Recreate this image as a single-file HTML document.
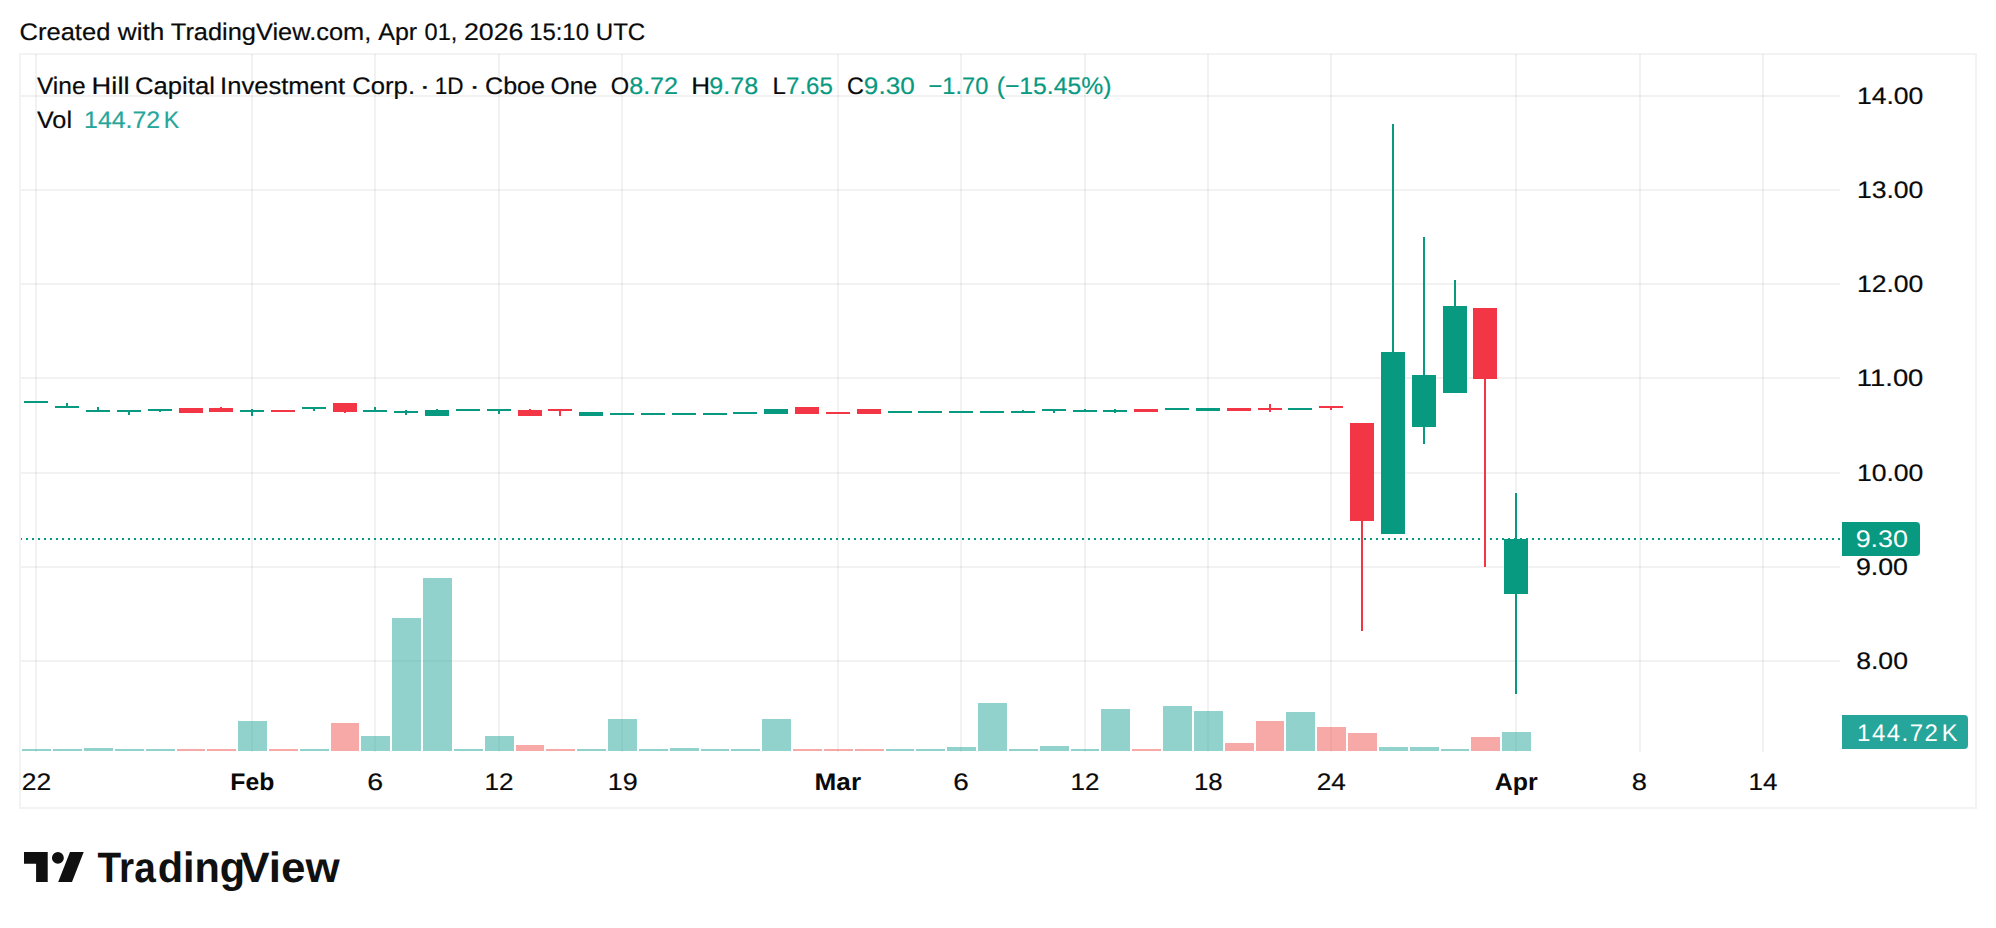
<!DOCTYPE html>
<html lang="en"><head><meta charset="utf-8"><title>Vine Hill Capital Investment Corp. chart</title>
<style>html,body{margin:0;padding:0;background:#fff;}body{width:1996px;height:928px;overflow:hidden;}svg{display:block;}text{font-family:"Liberation Sans",sans-serif;paint-order:stroke;}</style>
</head><body>
<svg width="1996" height="928" viewBox="0 0 1996 928" shape-rendering="crispEdges">
<rect x="0" y="0" width="1996" height="928" fill="#ffffff"/>
<g fill="rgba(0,0,0,0.051)">
<rect x="35" y="54" width="2" height="698"/>
<rect x="251" y="54" width="2" height="698"/>
<rect x="374" y="54" width="2" height="698"/>
<rect x="498" y="54" width="2" height="698"/>
<rect x="621" y="54" width="2" height="698"/>
<rect x="837" y="54" width="2" height="698"/>
<rect x="960" y="54" width="2" height="698"/>
<rect x="1084" y="54" width="2" height="698"/>
<rect x="1207" y="54" width="2" height="698"/>
<rect x="1330" y="54" width="2" height="698"/>
<rect x="1515" y="54" width="2" height="698"/>
<rect x="1639" y="54" width="2" height="698"/>
<rect x="1762" y="54" width="2" height="698"/>
<rect x="21" y="95" width="1819" height="2"/>
<rect x="21" y="189" width="1819" height="2"/>
<rect x="21" y="283" width="1819" height="2"/>
<rect x="21" y="377" width="1819" height="2"/>
<rect x="21" y="472" width="1819" height="2"/>
<rect x="21" y="566" width="1819" height="2"/>
<rect x="21" y="660" width="1819" height="2"/>
</g>
<rect x="20" y="54" width="1956" height="754" fill="none" stroke="rgba(0,0,0,0.047)" stroke-width="2"/>
<g>
<rect x="22" y="749" width="29" height="2" fill="rgba(38,166,154,0.5)"/>
<rect x="53" y="749" width="29" height="2" fill="rgba(38,166,154,0.5)"/>
<rect x="84" y="748" width="29" height="3" fill="rgba(38,166,154,0.5)"/>
<rect x="115" y="749" width="29" height="2" fill="rgba(38,166,154,0.5)"/>
<rect x="146" y="749" width="29" height="2" fill="rgba(38,166,154,0.5)"/>
<rect x="177" y="749" width="28" height="2" fill="rgba(239,83,80,0.5)"/>
<rect x="207" y="749" width="29" height="2" fill="rgba(239,83,80,0.5)"/>
<rect x="238" y="721" width="29" height="30" fill="rgba(38,166,154,0.5)"/>
<rect x="269" y="749" width="29" height="2" fill="rgba(239,83,80,0.5)"/>
<rect x="300" y="749" width="29" height="2" fill="rgba(38,166,154,0.5)"/>
<rect x="331" y="723" width="28" height="28" fill="rgba(239,83,80,0.5)"/>
<rect x="361" y="736" width="29" height="15" fill="rgba(38,166,154,0.5)"/>
<rect x="392" y="618" width="29" height="133" fill="rgba(38,166,154,0.5)"/>
<rect x="423" y="578" width="29" height="173" fill="rgba(38,166,154,0.5)"/>
<rect x="454" y="749" width="29" height="2" fill="rgba(38,166,154,0.5)"/>
<rect x="485" y="736" width="29" height="15" fill="rgba(38,166,154,0.5)"/>
<rect x="516" y="745" width="28" height="6" fill="rgba(239,83,80,0.5)"/>
<rect x="546" y="749" width="29" height="2" fill="rgba(239,83,80,0.5)"/>
<rect x="577" y="749" width="29" height="2" fill="rgba(38,166,154,0.5)"/>
<rect x="608" y="719" width="29" height="32" fill="rgba(38,166,154,0.5)"/>
<rect x="639" y="749" width="29" height="2" fill="rgba(38,166,154,0.5)"/>
<rect x="670" y="748" width="29" height="3" fill="rgba(38,166,154,0.5)"/>
<rect x="701" y="749" width="28" height="2" fill="rgba(38,166,154,0.5)"/>
<rect x="731" y="749" width="29" height="2" fill="rgba(38,166,154,0.5)"/>
<rect x="762" y="719" width="29" height="32" fill="rgba(38,166,154,0.5)"/>
<rect x="793" y="749" width="29" height="2" fill="rgba(239,83,80,0.5)"/>
<rect x="824" y="749" width="29" height="2" fill="rgba(239,83,80,0.5)"/>
<rect x="855" y="749" width="29" height="2" fill="rgba(239,83,80,0.5)"/>
<rect x="886" y="749" width="28" height="2" fill="rgba(38,166,154,0.5)"/>
<rect x="916" y="749" width="29" height="2" fill="rgba(38,166,154,0.5)"/>
<rect x="947" y="747" width="29" height="4" fill="rgba(38,166,154,0.5)"/>
<rect x="978" y="703" width="29" height="48" fill="rgba(38,166,154,0.5)"/>
<rect x="1009" y="749" width="29" height="2" fill="rgba(38,166,154,0.5)"/>
<rect x="1040" y="746" width="29" height="5" fill="rgba(38,166,154,0.5)"/>
<rect x="1071" y="749" width="28" height="2" fill="rgba(38,166,154,0.5)"/>
<rect x="1101" y="709" width="29" height="42" fill="rgba(38,166,154,0.5)"/>
<rect x="1132" y="749" width="29" height="2" fill="rgba(239,83,80,0.5)"/>
<rect x="1163" y="706" width="29" height="45" fill="rgba(38,166,154,0.5)"/>
<rect x="1194" y="711" width="29" height="40" fill="rgba(38,166,154,0.5)"/>
<rect x="1225" y="743" width="29" height="8" fill="rgba(239,83,80,0.5)"/>
<rect x="1256" y="721" width="28" height="30" fill="rgba(239,83,80,0.5)"/>
<rect x="1286" y="712" width="29" height="39" fill="rgba(38,166,154,0.5)"/>
<rect x="1317" y="727" width="29" height="24" fill="rgba(239,83,80,0.5)"/>
<rect x="1348" y="733" width="29" height="18" fill="rgba(239,83,80,0.5)"/>
<rect x="1379" y="747" width="29" height="4" fill="rgba(38,166,154,0.5)"/>
<rect x="1410" y="747" width="29" height="4" fill="rgba(38,166,154,0.5)"/>
<rect x="1441" y="749" width="28" height="2" fill="rgba(38,166,154,0.5)"/>
<rect x="1471" y="737" width="29" height="14" fill="rgba(239,83,80,0.5)"/>
<rect x="1502" y="732" width="29" height="19" fill="rgba(38,166,154,0.5)"/>
</g>
<line x1="21" y1="539" x2="1842" y2="539" stroke="#089981" stroke-width="2" stroke-dasharray="2 4" stroke-dashoffset="1"/>
<g>
<rect x="24" y="401" width="24" height="2" fill="#089981"/>
<rect x="66" y="403" width="2" height="5" fill="#089981"/>
<rect x="55" y="406" width="24" height="2" fill="#089981"/>
<rect x="97" y="407" width="2" height="5" fill="#089981"/>
<rect x="86" y="410" width="24" height="2" fill="#089981"/>
<rect x="128" y="410" width="2" height="5" fill="#089981"/>
<rect x="117" y="410" width="24" height="2" fill="#089981"/>
<rect x="159" y="409" width="2" height="3" fill="#089981"/>
<rect x="148" y="409" width="24" height="2" fill="#089981"/>
<rect x="179" y="408" width="24" height="5" fill="#f23645"/>
<rect x="220" y="407" width="2" height="5" fill="#f23645"/>
<rect x="209" y="408" width="24" height="4" fill="#f23645"/>
<rect x="251" y="409" width="2" height="7" fill="#089981"/>
<rect x="240" y="410" width="24" height="2" fill="#089981"/>
<rect x="271" y="410" width="24" height="2" fill="#f23645"/>
<rect x="313" y="407" width="2" height="4" fill="#089981"/>
<rect x="302" y="407" width="24" height="2" fill="#089981"/>
<rect x="344" y="403" width="2" height="10" fill="#f23645"/>
<rect x="333" y="403" width="24" height="9" fill="#f23645"/>
<rect x="374" y="407" width="2" height="5" fill="#089981"/>
<rect x="363" y="410" width="24" height="2" fill="#089981"/>
<rect x="405" y="410" width="2" height="5" fill="#089981"/>
<rect x="394" y="411" width="24" height="2" fill="#089981"/>
<rect x="436" y="409" width="2" height="7" fill="#089981"/>
<rect x="425" y="410" width="24" height="6" fill="#089981"/>
<rect x="456" y="409" width="24" height="2" fill="#089981"/>
<rect x="498" y="409" width="2" height="5" fill="#089981"/>
<rect x="487" y="409" width="24" height="2" fill="#089981"/>
<rect x="529" y="409" width="2" height="7" fill="#f23645"/>
<rect x="518" y="410" width="24" height="6" fill="#f23645"/>
<rect x="559" y="409" width="2" height="7" fill="#f23645"/>
<rect x="548" y="409" width="24" height="2" fill="#f23645"/>
<rect x="579" y="412" width="24" height="4" fill="#089981"/>
<rect x="610" y="413" width="24" height="2" fill="#089981"/>
<rect x="641" y="413" width="24" height="2" fill="#089981"/>
<rect x="672" y="413" width="24" height="2" fill="#089981"/>
<rect x="703" y="413" width="24" height="2" fill="#089981"/>
<rect x="733" y="412" width="24" height="2" fill="#089981"/>
<rect x="764" y="409" width="24" height="5" fill="#089981"/>
<rect x="795" y="407" width="24" height="7" fill="#f23645"/>
<rect x="826" y="412" width="24" height="2" fill="#f23645"/>
<rect x="857" y="409" width="24" height="5" fill="#f23645"/>
<rect x="888" y="411" width="24" height="2" fill="#089981"/>
<rect x="918" y="411" width="24" height="2" fill="#089981"/>
<rect x="949" y="411" width="24" height="2" fill="#089981"/>
<rect x="980" y="411" width="24" height="2" fill="#089981"/>
<rect x="1022" y="410" width="2" height="3" fill="#089981"/>
<rect x="1011" y="411" width="24" height="2" fill="#089981"/>
<rect x="1053" y="409" width="2" height="4" fill="#089981"/>
<rect x="1042" y="409" width="24" height="2" fill="#089981"/>
<rect x="1084" y="409" width="2" height="3" fill="#089981"/>
<rect x="1073" y="410" width="24" height="2" fill="#089981"/>
<rect x="1114" y="409" width="2" height="4" fill="#089981"/>
<rect x="1103" y="410" width="24" height="2" fill="#089981"/>
<rect x="1134" y="409" width="24" height="3" fill="#f23645"/>
<rect x="1165" y="408" width="24" height="2" fill="#089981"/>
<rect x="1196" y="408" width="24" height="3" fill="#089981"/>
<rect x="1227" y="408" width="24" height="3" fill="#f23645"/>
<rect x="1269" y="404" width="2" height="8" fill="#f23645"/>
<rect x="1258" y="408" width="24" height="2" fill="#f23645"/>
<rect x="1288" y="408" width="24" height="2" fill="#089981"/>
<rect x="1330" y="406" width="2" height="4" fill="#f23645"/>
<rect x="1319" y="406" width="24" height="2" fill="#f23645"/>
<rect x="1361" y="423" width="2" height="208" fill="#f23645"/>
<rect x="1350" y="423" width="24" height="98" fill="#f23645"/>
<rect x="1392" y="124" width="2" height="410" fill="#089981"/>
<rect x="1381" y="352" width="24" height="182" fill="#089981"/>
<rect x="1423" y="237" width="2" height="207" fill="#089981"/>
<rect x="1412" y="375" width="24" height="52" fill="#089981"/>
<rect x="1454" y="280" width="2" height="113" fill="#089981"/>
<rect x="1443" y="306" width="24" height="87" fill="#089981"/>
<rect x="1484" y="308" width="2" height="259" fill="#f23645"/>
<rect x="1473" y="308" width="24" height="71" fill="#f23645"/>
<rect x="1515" y="493" width="2" height="201" fill="#089981"/>
<rect x="1504" y="539" width="24" height="55" fill="#089981"/>
</g>
<g shape-rendering="auto" text-rendering="geometricPrecision">
<text x="1856.91" y="103.8" font-size="24" fill="#0a0a0a" textLength="66.46" lengthAdjust="spacingAndGlyphs" stroke="#0a0a0a" stroke-width="0.2">14.00</text>
<text x="1856.91" y="197.8" font-size="24" fill="#0a0a0a" textLength="66.46" lengthAdjust="spacingAndGlyphs" stroke="#0a0a0a" stroke-width="0.2">13.00</text>
<text x="1856.91" y="291.8" font-size="24" fill="#0a0a0a" textLength="66.46" lengthAdjust="spacingAndGlyphs" stroke="#0a0a0a" stroke-width="0.2">12.00</text>
<text x="1856.85" y="385.8" font-size="24" fill="#0a0a0a" textLength="66.52" lengthAdjust="spacingAndGlyphs" stroke="#0a0a0a" stroke-width="0.2">11.00</text>
<text x="1856.91" y="480.8" font-size="24" fill="#0a0a0a" textLength="66.46" lengthAdjust="spacingAndGlyphs" stroke="#0a0a0a" stroke-width="0.2">10.00</text>
<text x="1855.91" y="574.8" font-size="24" fill="#0a0a0a" textLength="52.06" lengthAdjust="spacingAndGlyphs" stroke="#0a0a0a" stroke-width="0.2">9.00</text>
<text x="1856.19" y="668.8" font-size="24" fill="#0a0a0a" textLength="51.77" lengthAdjust="spacingAndGlyphs" stroke="#0a0a0a" stroke-width="0.2">8.00</text>
<path d="M1842 522H1916a4 4 0 0 1 4 4V552a4 4 0 0 1-4 4H1842Z" fill="#089981"/>
<text x="1855.7" y="546.5" font-size="24" fill="#ffffff" textLength="52.27" lengthAdjust="spacingAndGlyphs">9.30</text>
<path d="M1842 715H1964a4 4 0 0 1 4 4V745a4 4 0 0 1-4 4H1842Z" fill="#26a69a"/>
<text x="1857.05" y="741" font-size="24" fill="#ffffff" letter-spacing="1.5">144.72</text>
<text x="1941.74" y="741" font-size="24" fill="#ffffff" textLength="15.72" lengthAdjust="spacingAndGlyphs">K</text>
<text x="21.72" y="790" font-size="24" fill="#0a0a0a" textLength="29.39" lengthAdjust="spacingAndGlyphs" stroke="#0a0a0a" stroke-width="0.2">22</text>
<text x="230.35" y="790" font-size="24" fill="#0a0a0a" textLength="43.99" lengthAdjust="spacingAndGlyphs" font-weight="bold">Feb</text>
<text x="367.31" y="790" font-size="24" fill="#0a0a0a" textLength="15.9" lengthAdjust="spacingAndGlyphs" stroke="#0a0a0a" stroke-width="0.2">6</text>
<text x="484.6" y="790" font-size="24" fill="#0a0a0a" textLength="29.0" lengthAdjust="spacingAndGlyphs" stroke="#0a0a0a" stroke-width="0.2">12</text>
<text x="607.74" y="790" font-size="24" fill="#0a0a0a" textLength="29.9" lengthAdjust="spacingAndGlyphs" stroke="#0a0a0a" stroke-width="0.2">19</text>
<text x="814.57" y="790" font-size="24" fill="#0a0a0a" textLength="46.5" lengthAdjust="spacingAndGlyphs" font-weight="bold">Mar</text>
<text x="953.35" y="790" font-size="24" fill="#0a0a0a" textLength="15.53" lengthAdjust="spacingAndGlyphs" stroke="#0a0a0a" stroke-width="0.2">6</text>
<text x="1070.51" y="790" font-size="24" fill="#0a0a0a" textLength="28.89" lengthAdjust="spacingAndGlyphs" stroke="#0a0a0a" stroke-width="0.2">12</text>
<text x="1194.02" y="790" font-size="24" fill="#0a0a0a" textLength="28.7" lengthAdjust="spacingAndGlyphs" stroke="#0a0a0a" stroke-width="0.2">18</text>
<text x="1316.74" y="790" font-size="24" fill="#0a0a0a" textLength="29.12" lengthAdjust="spacingAndGlyphs" stroke="#0a0a0a" stroke-width="0.2">24</text>
<text x="1494.72" y="790" font-size="24" fill="#0a0a0a" textLength="43.03" lengthAdjust="spacingAndGlyphs" font-weight="bold">Apr</text>
<text x="1631.86" y="790" font-size="24" fill="#0a0a0a" textLength="15.19" lengthAdjust="spacingAndGlyphs" stroke="#0a0a0a" stroke-width="0.2">8</text>
<text x="1748.6" y="790" font-size="24" fill="#0a0a0a" textLength="28.95" lengthAdjust="spacingAndGlyphs" stroke="#0a0a0a" stroke-width="0.2">14</text>
<text><tspan x="19.57" y="40.3" font-size="24" fill="#0a0a0a" textLength="90.76" lengthAdjust="spacingAndGlyphs" stroke="#0a0a0a" stroke-width="0.2">Created</tspan> <tspan x="117.8" y="40.3" font-size="24" fill="#0a0a0a" textLength="46.53" lengthAdjust="spacingAndGlyphs" stroke="#0a0a0a" stroke-width="0.2">with</tspan> <tspan x="170.87" y="40.3" font-size="24" fill="#0a0a0a" textLength="200.33" lengthAdjust="spacingAndGlyphs" stroke="#0a0a0a" stroke-width="0.2">TradingView.com,</tspan> <tspan x="378.3" y="40.3" font-size="24" fill="#0a0a0a" textLength="38.86" lengthAdjust="spacingAndGlyphs" stroke="#0a0a0a" stroke-width="0.2">Apr</tspan> <tspan x="424.62" y="40.3" font-size="24" fill="#0a0a0a" textLength="32.76" lengthAdjust="spacingAndGlyphs" stroke="#0a0a0a" stroke-width="0.2">01,</tspan> <tspan x="463.91" y="40.3" font-size="24" fill="#0a0a0a" textLength="59.46" lengthAdjust="spacingAndGlyphs" stroke="#0a0a0a" stroke-width="0.2">2026</tspan> <tspan x="529.16" y="40.3" font-size="24" fill="#0a0a0a" textLength="59.8" lengthAdjust="spacingAndGlyphs" stroke="#0a0a0a" stroke-width="0.2">15:10</tspan> <tspan x="595.74" y="40.3" font-size="24" fill="#0a0a0a" textLength="49.54" lengthAdjust="spacingAndGlyphs" stroke="#0a0a0a" stroke-width="0.2">UTC</tspan></text>
<text><tspan x="36.94" y="94" font-size="24" fill="#0a0a0a" textLength="48.58" lengthAdjust="spacingAndGlyphs" stroke="#0a0a0a" stroke-width="0.2">Vine</tspan> <tspan x="91.63" y="94" font-size="24" fill="#0a0a0a" textLength="37.87" lengthAdjust="spacingAndGlyphs" stroke="#0a0a0a" stroke-width="0.2">Hill</tspan> <tspan x="135.06" y="94" font-size="24" fill="#0a0a0a" textLength="79.86" lengthAdjust="spacingAndGlyphs" stroke="#0a0a0a" stroke-width="0.2">Capital</tspan> <tspan x="220.1" y="94" font-size="24" fill="#0a0a0a" textLength="125.04" lengthAdjust="spacingAndGlyphs" stroke="#0a0a0a" stroke-width="0.2">Investment</tspan> <tspan x="352.26" y="94" font-size="24" fill="#0a0a0a" textLength="62.78" lengthAdjust="spacingAndGlyphs" stroke="#0a0a0a" stroke-width="0.2">Corp.</tspan> <tspan x="419.35" y="94" font-size="24" fill="#0a0a0a" textLength="11.19" lengthAdjust="spacingAndGlyphs" stroke="#0a0a0a" stroke-width="0.2">·</tspan> <tspan x="434.66" y="94" font-size="24" fill="#0a0a0a" textLength="28.74" lengthAdjust="spacingAndGlyphs" stroke="#0a0a0a" stroke-width="0.2">1D</tspan> <tspan x="468.95" y="94" font-size="24" fill="#0a0a0a" textLength="11.19" lengthAdjust="spacingAndGlyphs" stroke="#0a0a0a" stroke-width="0.2">·</tspan> <tspan x="484.99" y="94" font-size="24" fill="#0a0a0a" textLength="60.09" lengthAdjust="spacingAndGlyphs" stroke="#0a0a0a" stroke-width="0.2">Cboe</tspan> <tspan x="550.62" y="94" font-size="24" fill="#0a0a0a" textLength="46.52" lengthAdjust="spacingAndGlyphs" stroke="#0a0a0a" stroke-width="0.2">One</tspan> <tspan x="610.77" y="94" font-size="24" fill="#0a0a0a" textLength="18.38" lengthAdjust="spacingAndGlyphs" stroke="#0a0a0a" stroke-width="0.2">O</tspan><tspan x="629.15" y="94" font-size="24" fill="#089981" textLength="48.97" lengthAdjust="spacingAndGlyphs" stroke="#089981" stroke-width="0.2">8.72</tspan> <tspan x="691.33" y="94" font-size="24" fill="#0a0a0a" textLength="18.84" lengthAdjust="spacingAndGlyphs" stroke="#0a0a0a" stroke-width="0.2">H</tspan><tspan x="709.39" y="94" font-size="24" fill="#089981" textLength="48.81" lengthAdjust="spacingAndGlyphs" stroke="#089981" stroke-width="0.2">9.78</tspan> <tspan x="772.5" y="94" font-size="24" fill="#0a0a0a" textLength="13.35" lengthAdjust="spacingAndGlyphs" stroke="#0a0a0a" stroke-width="0.2">L</tspan><tspan x="786.05" y="94" font-size="24" fill="#089981" textLength="46.82" lengthAdjust="spacingAndGlyphs" stroke="#089981" stroke-width="0.2">7.65</tspan> <tspan x="846.88" y="94" font-size="24" fill="#0a0a0a" textLength="16.87" lengthAdjust="spacingAndGlyphs" stroke="#0a0a0a" stroke-width="0.2">C</tspan><tspan x="863.89" y="94" font-size="24" fill="#089981" textLength="50.8" lengthAdjust="spacingAndGlyphs" stroke="#089981" stroke-width="0.2">9.30</tspan> <tspan x="928.57" y="94" font-size="24" fill="#089981" textLength="59.69" lengthAdjust="spacingAndGlyphs" stroke="#089981" stroke-width="0.2">−1.70</tspan> <tspan x="996.65" y="94" font-size="24" fill="#089981" textLength="114.79" lengthAdjust="spacingAndGlyphs" stroke="#089981" stroke-width="0.2">(−15.45%)</tspan></text>
<text><tspan x="36.94" y="127.7" font-size="24" fill="#0a0a0a" textLength="35.06" lengthAdjust="spacingAndGlyphs" stroke="#0a0a0a" stroke-width="0.2">Vol</tspan> <tspan x="84.09" y="127.7" font-size="24" fill="#26a69a" textLength="76.11" lengthAdjust="spacingAndGlyphs" stroke="#26a69a" stroke-width="0.2">144.72</tspan> <tspan x="163.68" y="127.7" font-size="24" fill="#26a69a" textLength="15.37" lengthAdjust="spacingAndGlyphs" stroke="#26a69a" stroke-width="0.2">K</tspan></text>
<g fill="#101010">
<path d="M24 852H47.7V881.9H36.1V863.8H24Z"/>
<circle cx="57.9" cy="857.9" r="5.95"/>
<path d="M70 852H83.7L72 881.9H58.2Z"/>
</g>
<text><tspan x="97.54" y="881.7" font-size="42.5" fill="#101010" textLength="58.17" lengthAdjust="spacingAndGlyphs" font-weight="bold">Tra</tspan><tspan x="157.69" y="881.7" font-size="42.5" fill="#101010" textLength="87.48" lengthAdjust="spacingAndGlyphs" font-weight="bold">ding</tspan><tspan x="240.34" y="881.7" font-size="42.5" fill="#101010" textLength="99.34" lengthAdjust="spacingAndGlyphs" font-weight="bold">View</tspan></text>
</g>
</svg>
</body></html>
